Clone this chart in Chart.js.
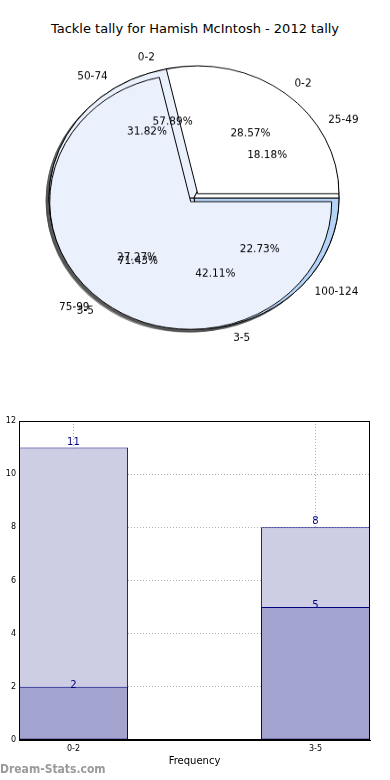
<!DOCTYPE html>
<html>
<head>
<meta charset="utf-8">
<script src="https://cdn.jsdelivr.net/npm/chart.js@4.4.1/dist/chart.umd.min.js"></script>
<style>
  body { margin: 0; width: 390px; height: 780px; overflow: hidden; background: #fff; position: relative; font-family: "DejaVu Sans", sans-serif; }
  #title { position: absolute; top: 21px; left: 0; width: 390px; text-align: center; font-size: 13px; color: #000; }
  #pieBox { position: absolute; top: 35px; left: 0; width: 390px; height: 360px; }
  #pieBox canvas { position: absolute; top: 0; left: 0; transform: scaleY(0.905); transform-origin: 0 0; }
  #barBox { position: absolute; top: 410px; left: 0; width: 390px; height: 370px; }
  #mark { position: absolute; top: 762px; left: 0; font-family: "DejaVu Sans Condensed", "DejaVu Sans", sans-serif; font-size: 12px; font-weight: bold; color: #9a9a9a; }
</style>
</head>
<body>
<div id="title">Tackle tally for Hamish McIntosh - 2012 tally</div>
<div id="pieBox">
  <canvas id="pieA" width="390" height="360"></canvas>
  <canvas id="pieC" width="390" height="360"></canvas>
  <canvas id="pieB" width="390" height="360"></canvas>
</div>
<div id="barBox"><canvas id="bars" width="390" height="370"></canvas></div>
<div id="mark">Dream-Stats.com</div>
<script>
// data
const bands = ["0-2", "3-5"];
const allGames = [11, 8];     // big pie + light bars
const subGames = [2, 5];      // top pie + dark bars
const rangeBands = ["25-49", "50-74", "75-99", "100-124"];
const rangeCounts = [4, 7, 6, 5];
const yTicks = [0, 2, 4, 6, 8, 10, 12];

const FONT = "'DejaVu Sans'";
const SY = 0.905; // pie is squashed a bit, like the original
const NAVY = "#000080";

const pieCharts = [];

// matplotlib style shadows: dark copies of every wedge, nudged left/down,
// all drawn on the bottom canvas so they sit under every pie
const shadowPlugin = {
  id: "pieShadow",
  beforeDatasetsDraw(chart) {
    const ctx = chart.ctx;
    ctx.save();
    ctx.translate(-3, 3);
    ctx.globalAlpha = 0.5;
    pieCharts.forEach(pc => {
      pc.getDatasetMeta(0).data.forEach(arc => {
        const saved = arc.options;
        const dark = Object.create(saved);
        dark.backgroundColor = "#444";
        dark.borderColor = "#444";
        arc.options = dark;
        arc.draw(ctx);
        arc.options = saved;
      });
    });
    ctx.restore();
  }
};

const pieLabelPlugin = {
  id: "pieLabels",
  afterDraw(chart) {
    const ctx = chart.ctx;
    ctx.save();
    ctx.font = "10.5px " + FONT;
    ctx.fillStyle = "#000";
    ctx.textBaseline = "middle";
    pieCharts.filter(c => c !== chart).concat(chart).forEach(pc => {
      const ds = pc.data.datasets[0];
      const total = ds.data.reduce((a, b) => a + b, 0);
      pc.getDatasetMeta(0).data.forEach((arc, i) => {
        const mid = (arc.startAngle + arc.endAngle) / 2;
        // chart.js moves an exploded arc by offset / 4
        const off = (arc.options.offset || 0) / 4;
        const cx = arc.x + Math.cos(mid) * off;
        const cy = arc.y + Math.sin(mid) * off;
        const put = (text, r, align) => {
          ctx.save();
          ctx.translate(cx + Math.cos(mid) * r, cy + Math.sin(mid) * r);
          ctx.scale(1, 1 / SY);
          ctx.textAlign = align;
          ctx.fillText(text, 0, 0);
          ctx.restore();
        };
        put(pc.data.labels[i], 1.1 * arc.outerRadius, Math.cos(mid) > 0 ? "left" : "right");
        put((ds.data[i] / total * 100).toFixed(2) + "%", 0.6 * arc.outerRadius, "center");
      });
    });
    ctx.restore();
  }
};

// matplotlib goes counter-clockwise from 3 o'clock, so feed the slices reversed
function makePie(id, labels, values, colors, offsets, radius, padding, extra) {
  const rev = a => [...a].reverse();
  return new Chart(document.getElementById(id), {
    type: "pie",
    data: {
      labels: rev(labels),
      datasets: [{
        data: rev(values),
        backgroundColor: rev(colors),
        borderColor: "#000",
        borderWidth: 1,
        offset: rev(offsets)
      }]
    },
    options: {
      responsive: false,
      animation: false,
      events: [],
      rotation: 90,
      radius: radius,
      layout: { padding: padding },
      plugins: { legend: { display: false }, tooltip: { enabled: false } }
    },
    plugins: extra || []
  });
}

pieCharts.push(makePie("pieA", bands, allGames, ["#ffffff", "#eaf1fd"], [0, 0], 145, { right: 2 }, [shadowPlugin]));
pieCharts.push(makePie("pieC", rangeBands, rangeCounts, ["#ffffff", "#eaf1fd", "#d3e4fa", "#b5d3f6"], [0, 0, 0, 0], 145, { right: 2 }));
pieCharts.push(makePie("pieB", bands, subGames, ["#ffffff", "#eaf1fd"], [45, 0], 141, { right: 8.6, top: 8.4 }, [pieLabelPlugin]));
// redraw the bottom pie now that every wedge exists, so all shadows are in
pieCharts[0].draw();

const framePlugin = {
  id: "frame",
  afterDraw(chart) {
    const { ctx, chartArea: a } = chart;
    ctx.save();
    ctx.strokeStyle = "#000";
    ctx.lineWidth = 1;
    ctx.strokeRect(Math.round(a.left) + 0.5, Math.round(a.top) + 0.5, Math.round(a.width) - 1, Math.round(a.height) - 1);
    ctx.restore();
  }
};

const labelShift = [1, -3];
const valuePlugin = {
  id: "values",
  afterDraw(chart) {
    const ctx = chart.ctx;
    ctx.save();
    ctx.font = "10px " + FONT;
    ctx.fillStyle = NAVY;
    ctx.textAlign = "center";
    ctx.textBaseline = "alphabetic";
    chart.data.datasets.forEach((ds, di) => {
      chart.getDatasetMeta(di).data.forEach((bar, i) => {
        ctx.fillText(String(ds.data[i].y), bar.x, bar.y + labelShift[di]);
      });
    });
    ctx.restore();
  }
};

const barStyle = {
  borderColor: NAVY,
  borderWidth: 1,
  borderSkipped: false,
  grouped: false,
  categoryPercentage: 0.45,
  barPercentage: 1
};

new Chart(document.getElementById("bars"), {
  type: "bar",
  data: {
    datasets: [
      Object.assign({ data: subGames.map((v, i) => ({ x: i, y: v })), backgroundColor: "#a3a3cf" }, barStyle),
      Object.assign({ data: allGames.map((v, i) => ({ x: i, y: v })), backgroundColor: "#cdcde4" }, barStyle)
    ]
  },
  options: {
    responsive: false,
    animation: false,
    events: [],
    layout: { padding: { top: 11, right: 20, bottom: 10, left: 0 } },
    plugins: { legend: { display: false }, tooltip: { enabled: false } },
    scales: {
      x: {
        type: "linear",
        offset: false,
        min: -0.225,
        max: 1.225,
        z: 1,
        ticks: {
          stepSize: 1,
          includeBounds: false,
          padding: 4,
          color: "#000",
          font: { size: 8, family: FONT },
          callback: v => bands[v] ?? ""
        },
        grid: { color: "#b0b0b0", drawTicks: false, offset: false },
        border: { color: "#000", dash: [1, 2] },
        title: { display: true, text: "Frequency", color: "#000", font: { size: 10, family: FONT }, padding: { top: 0, bottom: 3 } },
        afterFit(s) { s.height = 30; }
      },
      y: {
        min: yTicks[0],
        max: yTicks[yTicks.length - 1],
        z: 1,
        afterBuildTicks(s) { s.ticks = yTicks.map(v => ({ value: v })); },
        ticks: { padding: 3, color: "#000", font: { size: 8, family: FONT } },
        grid: { color: "#b0b0b0", drawTicks: false },
        border: { color: "#000", dash: [1, 2] },
        afterFit(s) { s.width = 19; }
      }
    }
  },
  plugins: [framePlugin, valuePlugin]
});
</script>
</body>
</html>
